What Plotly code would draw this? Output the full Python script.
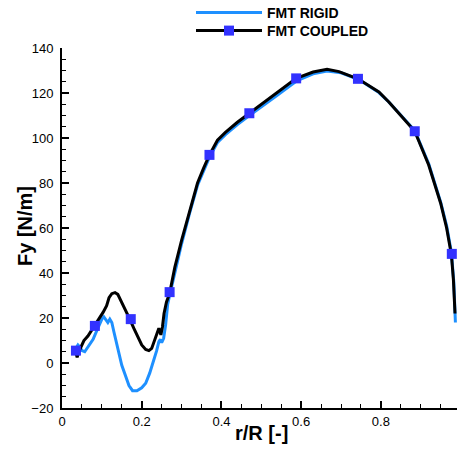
import plotly.graph_objects as go

# FMT COUPLED (black line)
r_coupled = [0.035, 0.038, 0.042, 0.048, 0.055, 0.065, 0.078, 0.09, 0.103, 0.112, 0.118, 0.125,
             0.133, 0.14, 0.15, 0.158, 0.17, 0.18, 0.19, 0.2, 0.21, 0.218, 0.225, 0.232, 0.238,
             0.243, 0.248, 0.252, 0.256, 0.262, 0.27, 0.283, 0.3, 0.32, 0.34, 0.355, 0.37, 0.39,
             0.41, 0.44, 0.47, 0.5, 0.54, 0.5875, 0.63, 0.665, 0.695, 0.7425, 0.795, 0.82, 0.85,
             0.885, 0.92, 0.95, 0.965, 0.977, 0.982, 0.986]
fy_coupled = [4.5, 2.5, 5, 7.5, 10, 12, 15.5, 19, 22.5, 25.5, 29, 30.8,
              31.3, 30.5, 27, 24, 19.5, 15.5, 11.5, 8, 6, 5.5, 6.5, 10, 13,
              15.5, 12.5, 16, 22, 27, 31, 42.5, 54.5, 67.5, 80, 86.5, 92.5, 99,
              102.5, 107, 111, 115, 120, 126.5, 129.3, 130.5, 129.5, 126.3, 120.5, 116, 110,
              103, 88, 71, 60, 48, 37, 22]

# FMT COUPLED symbols
r_markers = [0.035, 0.0825, 0.1725, 0.27, 0.37, 0.47, 0.5875, 0.7425, 0.885, 0.978]
fy_markers = [5.5, 16.5, 19.5, 31.5, 92.5, 111, 126.5, 126.3, 103, 48.5]

# FMT RIGID (blue line)
r_rigid = [0.035, 0.04, 0.045, 0.05, 0.057, 0.065, 0.078, 0.09, 0.1, 0.105, 0.11, 0.115, 0.12,
           0.125, 0.13, 0.14, 0.15, 0.158, 0.168, 0.177, 0.188, 0.2, 0.21, 0.22, 0.23, 0.2375,
           0.243, 0.247, 0.25, 0.255, 0.26, 0.265, 0.27, 0.285, 0.3, 0.32, 0.34, 0.37, 0.39,
           0.41, 0.44, 0.47, 0.5, 0.54, 0.59, 0.63, 0.665, 0.7, 0.745, 0.795, 0.82, 0.85,
           0.885, 0.92, 0.95, 0.965, 0.977, 0.983, 0.987]
fy_rigid = [6.5, 8, 7, 5.5, 5, 7, 10.5, 15.5, 19.5, 20.5, 19, 18, 19.5,
            18, 14, 6.5, -1, -5, -10, -12.3, -12.3, -11, -9, -4.5, 1, 5.5,
            9.5, 10.5, 9, 11, 17, 26, 30, 41.5, 53, 66.5, 79, 91.5, 98,
            101.5, 106, 110, 114, 119, 125.5, 128.5, 129.8, 129, 126, 120.2, 116, 110.3,
            103.3, 88.5, 71.5, 61, 49, 36, 18]

x_ticks = [0, 0.2, 0.4, 0.6, 0.8]
x_ticklabels = ["0", "0.2", "0.4", "0.6", "0.8"]
y_ticks = [-20, 0, 20, 40, 60, 80, 100, 120, 140]

BLUE_LINE = "#1E90FF"
MARK = "#3232FF"
FONT = "Liberation Sans, Arial, sans-serif"
W, H = 457, 452
L, R, T, B = 62, 0, 48, 44

fig = go.Figure()
fig.add_trace(go.Scatter(x=r_rigid, y=fy_rigid, mode="lines", name="FMT RIGID",
                         line=dict(color=BLUE_LINE, width=3), legend="legend"))
fig.add_trace(go.Scatter(x=r_coupled, y=fy_coupled, mode="lines", showlegend=False,
                         line=dict(color="black", width=3)))
fig.add_trace(go.Scatter(x=r_markers, y=fy_markers, mode="markers", showlegend=False,
                         marker=dict(symbol="square", size=10, color=MARK)))
fig.add_trace(go.Scatter(x=[None], y=[None], mode="lines+markers", name="FMT COUPLED",
                         line=dict(color="black", width=3), legend="legend2",
                         marker=dict(symbol="square", size=10, color=MARK)))

axis_common = dict(showline=True, linecolor="black", linewidth=2, mirror=False,
                   ticks="inside", ticklen=7, tickwidth=1.5, tickcolor="black",
                   showgrid=False, zeroline=False,
                   tickfont=dict(family=FONT, size=13, color="black"))

fig.update_xaxes(range=[0, 0.991], tickvals=x_ticks, ticktext=x_ticklabels,
                 minor=dict(ticks="inside", ticklen=4, dtick=0.05, tick0=0,
                            tickcolor="black", tickwidth=1),
                 **axis_common)
fig.update_yaxes(range=[-20, 140], tickvals=y_ticks,
                 minor=dict(ticks="inside", ticklen=4, dtick=5, tick0=0,
                            tickcolor="black", tickwidth=1),
                 ticklabelstandoff=4,
                 **axis_common)

pw, ph = W - L - R, H - T - B
fig.add_annotation(text="<b>Fy [N/m]</b>", textangle=-90, showarrow=False,
                   xref="paper", yref="paper", x=(25 - L) / pw, y=(H - B - 226) / ph,
                   xanchor="center", yanchor="middle",
                   font=dict(family=FONT, size=20, color="black"))
fig.add_annotation(text="<b>r/R [-]</b>", showarrow=False,
                   xref="paper", yref="paper", x=(261 - L) / pw, y=(H - B - 433) / ph,
                   xanchor="center", yanchor="middle",
                   font=dict(family=FONT, size=20, color="black"))

legend_style = dict(xref="container", yref="container", xanchor="left", yanchor="middle",
                    bgcolor="rgba(0,0,0,0)", itemwidth=66,
                    font=dict(family=FONT, size=14, color="black", weight="bold"))
fig.update_layout(width=W, height=H,
                  margin=dict(l=L, r=R, t=T, b=B, autoexpand=False),
                  plot_bgcolor="white", paper_bgcolor="white",
                  font=dict(family=FONT, color="black"),
                  legend=dict(x=191 / W, y=1 - 13 / H, **legend_style),
                  legend2=dict(x=191 / W, y=1 - 31 / H, **legend_style))

fig.write_html("out.html", config={"displayModeBar": False},
               post_script="document.body.style.margin='0';")
